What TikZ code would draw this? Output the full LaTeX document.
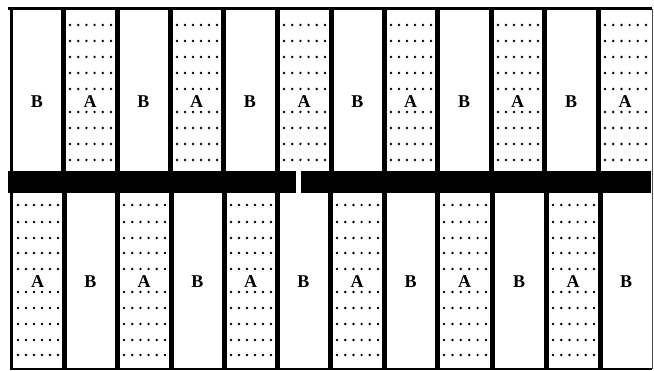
\documentclass[tikz,border=0pt]{standalone}
\usepackage{fontspec}
\setmainfont{Liberation Serif}
\begin{document}
\begin{tikzpicture}[x=1pt,y=-1pt,
  vline/.style={line width=5pt},
  lab/.style={font=\fontsize{18}{18}\selectfont\bfseries, inner sep=0pt},
  dotfill/.style={fill=black}]
\useasboundingbox (0,0) rectangle (654,371);
\fill[white] (0,0) rectangle (654,371);
% top row verticals
\foreach \x in {63,117,170,223,277,331,384,437,491,544,598}
  \draw[vline] (\x,9) -- (\x,171);
% bottom row verticals
\foreach \x in {64,117,171,224,277,330,384,437,492,546,600}
  \draw[vline] (\x,193) -- (\x,369);
% dividing bar
\fill (8,171) rectangle (296,193);
\fill (301,171) rectangle (651,193);
% frame
\draw[line width=3pt] (8,9) -- (652,9);
\draw[line width=3pt] (11,8) -- (11,370);
\draw[line width=1.5pt] (10,369) -- (652,369);
\draw[line width=0.8pt, black!70] (652,9) -- (652,369);
% top row A columns
\foreach \a/\b [count=\i] in {63/117,170/223,277/331,384/437,491/544,598/652}{
  \foreach \y in {25,41,57,73,89,112,128,144,160}
    \foreach \k in {0,...,5}
      \fill[dotfill] ({\a+7+\k*(\b-\a-13)/5},\y) circle (1.35);
  \node[lab] (tA\i) at ({(\a+\b)/2},102) {A};
}
% top row B columns
\foreach \a/\b [count=\i] in {11/63,117/170,223/277,331/384,437/491,544/598}
  \node[lab] (tB\i) at ({(\a+\b)/2},102) {B};
% bottom row A columns
\foreach \a/\b [count=\i] in {11/64,117/171,224/277,330/384,437/492,546/600}{
  \foreach \y in {205,222,238,253,269,292,308,324,340,355}
    \foreach \k in {0,...,5}
      \fill[dotfill] ({\a+7+\k*(\b-\a-13)/5},\y) circle (1.35);
  \node[lab] (bA\i) at ({(\a+\b)/2},282) {A};
}
% bottom row B columns
\foreach \a/\b [count=\i] in {64/117,171/224,277/330,384/437,492/546,600/652}
  \node[lab] (bB\i) at ({(\a+\b)/2},282) {B};
\end{tikzpicture}
\end{document}
